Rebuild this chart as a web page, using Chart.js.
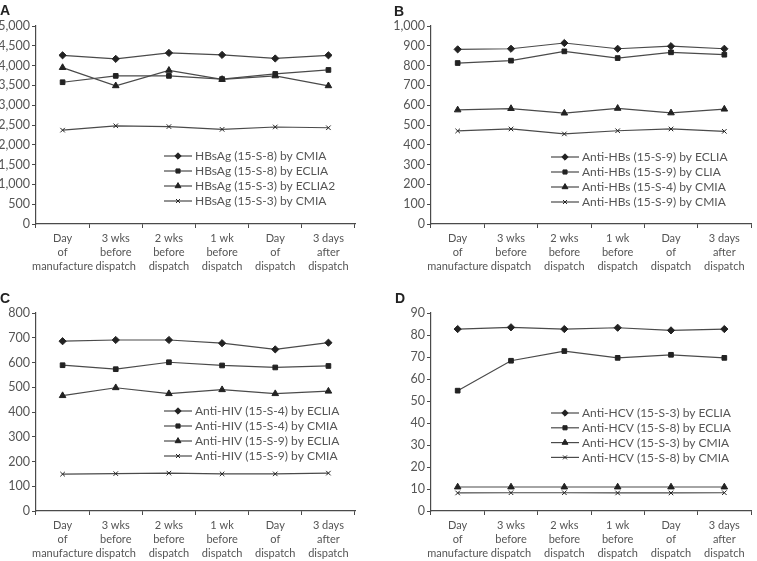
<!DOCTYPE html>
<html>
<head>
<meta charset="utf-8">
<script src="https://cdn.jsdelivr.net/npm/chart.js@4.4.1/dist/chart.umd.min.js"></script>
<style>
  body { margin: 0; width: 757px; height: 561px; background: #fff; position: relative; overflow: hidden; }
  canvas { position: absolute; }
</style>
</head>
<body>
<canvas id="chartA" width="378" height="280" style="left:0;top:0"></canvas>
<canvas id="chartB" width="379" height="280" style="left:378px;top:0"></canvas>
<canvas id="chartC" width="378" height="281" style="left:0;top:280px"></canvas>
<canvas id="chartD" width="379" height="281" style="left:378px;top:280px"></canvas>
<script>
// time points shared by all four panels
const timepoints = [
  ["Day", "of", "manufacture"],
  ["3 wks", "before", "dispatch"],
  ["2 wks", "before", "dispatch"],
  ["1 wk", "before", "dispatch"],
  ["Day", "of", "dispatch"],
  ["3 days", "after", "dispatch"],
];

// A - HBsAg
const hbsagNames = ["HBsAg (15-S-8) by CMIA", "HBsAg (15-S-8) by ECLIA", "HBsAg (15-S-3) by ECLIA2", "HBsAg (15-S-3) by CMIA"];
const hbsag8Cmia = [4260, 4170, 4320, 4270, 4180, 4260];
const hbsag8Eclia = [3580, 3740, 3740, 3660, 3790, 3890];
const hbsag3Eclia2 = [3950, 3490, 3880, 3650, 3740, 3490];
const hbsag3Cmia = [2370, 2480, 2460, 2390, 2450, 2430];

// B - Anti-HBs
const antiHbsNames = ["Anti-HBs (15-S-9) by ECLIA", "Anti-HBs (15-S-9) by CLIA", "Anti-HBs (15-S-4) by CMIA", "Anti-HBs (15-S-9) by CMIA"];
const antiHbs9Eclia = [882, 885, 914, 885, 898, 885];
const antiHbs9Clia = [813, 825, 872, 838, 867, 855];
const antiHbs4Cmia = [576, 583, 560, 584, 561, 580];
const antiHbs9Cmia = [470, 480, 455, 471, 480, 468];

// C - Anti-HIV
const antiHivNames = ["Anti-HIV (15-S-4) by ECLIA", "Anti-HIV (15-S-4) by CMIA", "Anti-HIV (15-S-9) by ECLIA", "Anti-HIV (15-S-9) by CMIA"];
const antiHiv4Eclia = [686, 691, 691, 678, 653, 680];
const antiHiv4Cmia = [589, 573, 601, 588, 580, 586];
const antiHiv9Eclia = [466, 498, 474, 490, 474, 484];
const antiHiv9Cmia = [149, 151, 153, 150, 150, 153];

// D - Anti-HCV
const antiHcvNames = ["Anti-HCV (15-S-3) by ECLIA", "Anti-HCV (15-S-8) by ECLIA", "Anti-HCV (15-S-3) by CMIA", "Anti-HCV (15-S-8) by CMIA"];
const antiHcv3Eclia = [82.7, 83.5, 82.7, 83.3, 82.1, 82.7];
const antiHcv8Eclia = [54.7, 68.3, 72.7, 69.6, 71.0, 69.6];
const antiHcv3Cmia = [10.9, 10.9, 10.9, 10.9, 10.9, 10.9];
const antiHcv8Cmia = [8.2, 8.3, 8.3, 8.2, 8.2, 8.3];

const lineColor = "#4a4a4a";
const markerColor = "#222";
const textColor = "#555";
const fontFamily = "Lato, 'Open Sans', sans-serif";
const markerStyles = ["rectRot", "rect", "triangle", "crossRot"];
const markerSizes = [3.6, 3.3, 3.8, 3.2];

// legend drawn inside the plot area + panel letter
const panelLegend = {
  id: "panelLegend",
  afterDraw(chart, args, opts) {
    const ctx = chart.ctx;
    ctx.save();
    ctx.fillStyle = "#222";
    ctx.font = "bold 14px 'Liberation Sans', Arial, sans-serif";
    ctx.textBaseline = "alphabetic";
    ctx.fillText(opts.letter, opts.letterX, opts.letterY);

    ctx.font = "12px " + fontFamily;
    ctx.textBaseline = "middle";
    chart.data.datasets.forEach((ds, i) => {
      const y = opts.y + i * opts.gap;
      ctx.strokeStyle = lineColor;
      ctx.lineWidth = 1.2;
      ctx.beginPath();
      ctx.moveTo(opts.x, y);
      ctx.lineTo(opts.x + 28, y);
      ctx.stroke();
      ctx.fillStyle = markerColor;
      ctx.strokeStyle = markerColor;
      ctx.lineWidth = 1;
      Chart.helpers.drawPoint(ctx, { pointStyle: ds.pointStyle, radius: ds.pointRadius - 0.4, borderWidth: 1, rotation: 0 }, opts.x + 14, y);
      ctx.fillStyle = textColor;
      ctx.fillText(ds.label, opts.x + 31, y + 0.5);
    });
    ctx.restore();
  },
};

function makePanel(canvasId, names, series, yMax, yStep, box, legend) {
  new Chart(document.getElementById(canvasId), {
    type: "line",
    data: {
      labels: timepoints,
      datasets: series.map((vals, i) => ({
        label: names[i],
        data: vals,
        borderColor: lineColor,
        borderWidth: 1.2,
        tension: 0,
        fill: false,
        pointStyle: markerStyles[i],
        pointRadius: markerSizes[i],
        pointBackgroundColor: markerColor,
        pointBorderColor: markerColor,
        pointBorderWidth: 1,
      })),
    },
    options: {
      responsive: false,
      animation: false,
      layout: { padding: { top: box.top, right: box.right, left: 0, bottom: 0 } },
      plugins: {
        legend: { display: false },
        tooltip: { enabled: false },
        panelLegend: legend,
      },
      scales: {
        x: {
          offset: true,
          grid: { offset: true, drawOnChartArea: false, tickLength: 4, color: lineColor },
          border: { color: lineColor, width: 1.2 },
          ticks: {
            color: textColor,
            font: { family: fontFamily, size: 11, lineHeight: "14px" },
            padding: 3,
            maxRotation: 0,
            autoSkip: false,
          },
          afterFit(scale) { scale.height = box.bottom; },
        },
        y: {
          min: 0,
          max: yMax,
          ticks: {
            stepSize: yStep,
            color: textColor,
            font: { family: fontFamily, size: 12.5 },
            padding: 2,
          },
          grid: { drawOnChartArea: false, tickLength: 4, color: lineColor },
          border: { color: lineColor, width: 1.2 },
          afterFit(scale) { scale.width = box.left; },
        },
      },
    },
    plugins: [panelLegend],
  });
}

makePanel("chartA", hbsagNames, [hbsag8Cmia, hbsag8Eclia, hbsag3Eclia2, hbsag3Cmia], 5000, 500,
  { left: 36, right: 23, top: 26, bottom: 56 },
  { letter: "A", letterX: 0, letterY: 15, x: 164, y: 156, gap: 15 });

makePanel("chartB", antiHbsNames, [antiHbs9Eclia, antiHbs9Clia, antiHbs4Cmia, antiHbs9Cmia], 1000, 100,
  { left: 53, right: 6, top: 26, bottom: 56 },
  { letter: "B", letterX: 16, letterY: 16, x: 173, y: 157, gap: 15 });

makePanel("chartC", antiHivNames, [antiHiv4Eclia, antiHiv4Cmia, antiHiv9Eclia, antiHiv9Cmia], 800, 100,
  { left: 36, right: 23, top: 33, bottom: 50 },
  { letter: "C", letterX: 0, letterY: 23, x: 164, y: 131, gap: 15 });

makePanel("chartD", antiHcvNames, [antiHcv3Eclia, antiHcv8Eclia, antiHcv3Cmia, antiHcv8Cmia], 90, 10,
  { left: 53, right: 6, top: 33, bottom: 50 },
  { letter: "D", letterX: 17, letterY: 23, x: 173, y: 133, gap: 14.8 });
</script>
</body>
</html>
